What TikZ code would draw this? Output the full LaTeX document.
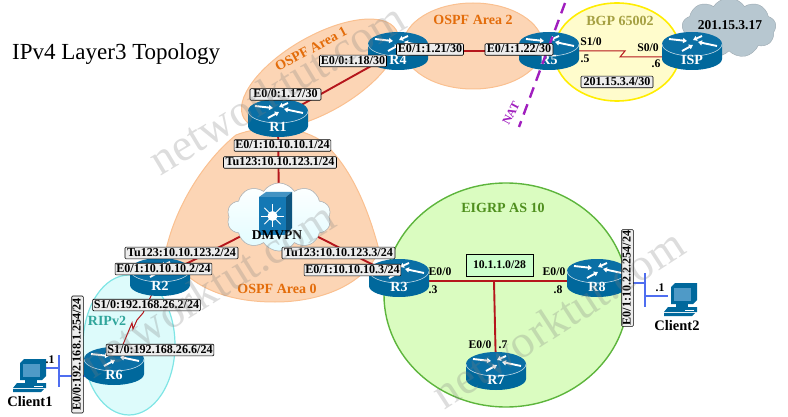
\documentclass[tikz,border=0pt]{standalone}
\usepackage{fontspec}
\setmainfont{Liberation Serif}
\usetikzlibrary{shapes.symbols,arrows.meta,calc}
\definecolor{linkred}{HTML}{B5161C}
\definecolor{routerblue}{HTML}{00689C}
\definecolor{routertop}{HTML}{0A6FA5}
\definecolor{lanblue}{HTML}{4F6EF0}
\definecolor{areaorange}{HTML}{FCD5B5}
\definecolor{edgeorange}{HTML}{FAC090}
\definecolor{textorange}{HTML}{E36C0A}
\definecolor{natpurple}{HTML}{A01EBE}
\definecolor{switchblue}{HTML}{1478B4}
\definecolor{ispgray}{HTML}{B7C7D0}
\definecolor{eigrpfill}{HTML}{DAFCC0}
\definecolor{eigrpedge}{HTML}{5DB53C}
\definecolor{eigrptext}{HTML}{4F8F1E}
\definecolor{riptext}{HTML}{2FA59B}
\definecolor{ripfill}{HTML}{DDFBFB}
\definecolor{ripedge}{HTML}{7FE5E5}
\tikzset{
  routerbox/.style={minimum width=60pt,minimum height=38pt,inner sep=0pt},
  routertext/.style={text=white,font=\bfseries\fontsize{14}{14}\selectfont,inner sep=0pt},
  ifbox/.style={draw=black,fill=gray!14,rounded corners=1pt,line width=.6pt,inner xsep=1.2pt,inner ysep=1pt,
    font=\bfseries\fontsize{12.1}{12}\selectfont,text height=8pt,text depth=1.6pt,align=center},
  plain/.style={font=\bfseries\fontsize{11.7}{12}\selectfont,inner sep=0pt},
  bigger/.style={font=\bfseries\fontsize{13.5}{14}\selectfont,inner sep=0pt},
  hostname/.style={font=\bfseries\fontsize{14.5}{15}\selectfont,inner sep=0pt},
  areaname/.style={font=\bfseries\fontsize{14}{14}\selectfont,inner sep=0pt},
  wire/.style={draw=linkred,line width=1.9pt},
  serial/.style={draw=linkred,line width=1pt},
  lan/.style={draw=lanblue,line width=2.6pt},
  markwater/.style={font=\fontsize{46}{46}\selectfont,text=gray,opacity=.27,inner sep=0pt},
  whitearrow/.style={draw=white,line width=1.9pt,-{Triangle[length=4pt,width=5pt]}},
  vpnbubble/.style={cloud,cloud puffs=10,cloud puff arc=115,aspect=1.5,minimum width=104pt,minimum height=68pt,
    draw=gray!60,line width=.5pt,top color=white,bottom color=blue!10!cyan!12,inner sep=0pt},
  router/.pic={
    \fill[routerblue] (-30,-7) -- (-30,8) arc[start angle=180,end angle=0,x radius=30,y radius=11] -- (30,-7) -- cycle;
    \fill[routertop] (0,-7) ellipse [x radius=30,y radius=12];
    \draw[white!75!routerblue,line width=.6pt] (-30,-7) arc[start angle=180,end angle=0,x radius=30,y radius=12];
    \draw[whitearrow] (-23,-12) -- (-5,-10);
    \draw[whitearrow] (-10,0) -- (1,-6);
    \draw[whitearrow] (10,-15) -- (1,-11);
    \draw[whitearrow] (25,-5) -- (6,-9);
  },
  client/.pic={
    \fill[routerblue] (7,5) -- (11,1) -- (33,1) -- (33,18) -- (29,22) -- (7,22) -- cycle;
    \fill[switchblue!75!white] (10,6) rectangle (27,19);
    \fill[routerblue] (12,22) rectangle (24,25);
    \fill[routerblue] (4,25) -- (33,25) -- (33,30) -- (0,30) -- cycle;
    \fill[routerblue] (0,31) -- (31,31) -- (28,34) -- (0,34) -- cycle;
    \draw[white,line width=.5pt] (21,28) -- (30,28);
  },
}
\newcommand{\placerouter}[2]{%
  \pic at (#1) {router};
  \node[routertext] (#1t) at ($(#1)+(0,9)$) {#2};
}
\begin{document}
\begin{tikzpicture}[x=1pt,y=-1pt]
\useasboundingbox (0,0) rectangle (788,417);
\clip (0,0) rectangle (788,417);

% device anchors
\node[routerbox] (R1) at (278,118) {};
\node[routerbox] (R2) at (160,277) {};
\node[routerbox] (R3) at (399,278) {};
\node[routerbox] (R4) at (398,51) {};
\node[routerbox] (R5) at (549,51) {};
\node[routerbox] (R6) at (114,366) {};
\node[routerbox] (R7) at (496,371) {};
\node[routerbox] (R8) at (597,278) {};
\node[routerbox] (ISP) at (692,51) {};

% routing domains
\fill[areaorange,draw=edgeorange,line width=1pt,rotate around={30:(320,74)}] (320,74) ellipse [x radius=88,y radius=38];
\fill[areaorange,draw=edgeorange,line width=1pt] (473,46) ellipse [x radius=70,y radius=43];
\fill[yellow!20,draw=yellow!95!orange,line width=1.6pt] (617,52) ellipse [x radius=63,y radius=49];
\fill[ripfill,draw=ripedge,line width=1.2pt] (129,345) ellipse [x radius=46,y radius=70];
\draw[draw=edgeorange,fill=areaorange,line width=1pt]
  (236,135) .. controls (262,125) and (296,125) .. (320,140)
  .. controls (352,165) and (370,215) .. (379,250)
  .. controls (365,285) and (320,302) .. (275,302)
  .. controls (235,302) and (190,292) .. (166,250)
  .. controls (176,205) and (205,160) .. (236,135) -- cycle;
\fill[eigrpfill,draw=eigrpedge,line width=1.4pt] (506,295) ellipse [x radius=122,y radius=112];

% clouds
\node[cloud,cloud puffs=9,cloud puff arc=115,aspect=1.6,minimum width=94pt,minimum height=60pt,
  fill=ispgray,draw=ispgray!85!black,line width=.4pt,inner sep=0pt] (ispcloud) at (729,28) {};
\node[vpnbubble] (vpn) at (279,217) {};

% links
\coordinate (lanA) at (59,376);
\coordinate (lanB) at (645,283);
\coordinate (tee) at (494,281);
\draw[wire] (R1.center) -- (R4.center);
\draw[wire] (R4.center) -- (R5.center);
\draw[wire] (R1.center) -- (vpn.center);
\draw[wire] (vpn.center) -- (R2.center);
\draw[wire] (vpn.center) -- (R3.center);
\draw[wire] ($(R3.center)+(0,3)$) -- ($(R8.center)+(0,3)$);
\draw[wire] (tee) -- (R7.center);
\draw[serial] (R5.center) -- ++(76,0) -- ++(-5,6) -- (ISP.center |- 0,57);
\draw[serial] (R2.center) -- (143,313) -- (137,320) -- (133,329) -- (132,323) -- (R6.center);
\draw[lan] (R6.center |- lanA) -- (lanA);
\draw[lan] (59,355) -- (59,387);
\draw[lan] (59,368) -- (45,368);
\draw[lan] (R8.center |- lanB) -- (lanB);
\draw[lan] (645,273) -- (645,307);
\draw[lan] (645,296) -- (668,296);

% the cloud face sits over the links that enter it
\node[vpnbubble] (vpnface) at (279,217) {};

% routers
\placerouter{R1}{R1}
\placerouter{R2}{R2}
\placerouter{R3}{R3}
\placerouter{R4}{R4}
\placerouter{R5}{R5}
\placerouter{R6}{R6}
\placerouter{R7}{R7}
\placerouter{R8}{R8}
\placerouter{ISP}{ISP}

% multilayer switch inside the DMVPN cloud
\fill[switchblue!80!white] (259,197) -- (266,192) -- (292,192) -- (286,197) -- cycle;
\fill[switchblue!70!black] (286,197) -- (292,192) -- (292,228) -- (286,235) -- cycle;
\fill[switchblue] (259,197) rectangle (286,235);
\fill[white] (272.5,216) circle (5pt);
\foreach \a in {0,45,...,315}
  \draw[white,line width=.8pt] (272.5,216) -- ++(\a:11.5);

% hosts
\pic at (13,358) {client};
\pic at (664,282) {client};

% NAT boundary
\coordinate (natA) at (565,3);
\coordinate (natB) at (519,127);
\draw[draw=natpurple,line width=2.4pt,dash pattern=on 11pt off 7pt] (natA) -- (natB);
\node[font=\fontsize{12}{12}\selectfont\bfseries,text=natpurple,rotate=62,inner sep=0pt] (nat) at (511,113) {NAT};

% domain names
\node[areaname,text=textorange,rotate=28] (a1) at (311,49) {OSPF Area 1};
\node[areaname,text=textorange] (a2) at (473,20) {OSPF Area 2};
\node[areaname,text=textorange] (a0) at (277,289) {OSPF Area 0};
\node[areaname,text=yellow!60!black] (bgp) at (620,21) {BGP 65002};
\node[areaname,text=eigrptext] (eigrp) at (503,208) {EIGRP AS 10};
\node[areaname,text=riptext] (rip) at (107,321) {RIPv2};

\node[font=\fontsize{23}{23}\selectfont,inner sep=0pt,anchor=west] (title) at (12,54) {IPv4 Layer3 Topology};
\node[bigger] (dmvpn) at (277,235) {DMVPN};
\node[bigger] (ispaddr) at (730,25) {201.15.3.17};

% interface boxes
\node[ifbox,minimum width=71pt] (b1) at (285.5,94.5) {E0/0:1.17/30};
\node[ifbox,minimum width=67pt] (b2) at (353,61) {E0/0:1.18/30};
\node[ifbox,minimum width=67pt] (b3) at (430,49.5) {E0/1:1.21/30};
\node[ifbox,minimum width=68pt] (b4) at (519,49.5) {E0/1:1.22/30};
\node[ifbox] (b5) at (282.5,145.5) {E0/1:10.10.10.1/24};
\node[ifbox,minimum width=113pt] (b6) at (280,162.5) {Tu123:10.10.123.1/24};
\node[ifbox,minimum width=113pt] (b7) at (181.5,253) {Tu123:10.10.123.2/24};
\node[ifbox] (b8) at (163.5,269) {E0/1:10.10.10.2/24};
\node[ifbox] (b9) at (146.5,305) {S1/0:192.168.26.2/24};
\node[ifbox] (b10) at (160,350) {S1/0:192.168.26.6/24};
\node[ifbox,rotate=90,minimum width=117pt] (b11) at (77.5,354.5) {E0/0:192.168.1.254/24};
\node[ifbox,minimum width=113pt] (b12) at (338.5,253) {Tu123:10.10.123.3/24};
\node[ifbox] (b13) at (352.5,270) {E0/1:10.10.10.3/24};
\node[ifbox,rotate=90] (b14) at (627.5,278) {E0/1:10.2.2.254/24};
\node[ifbox,minimum width=72pt] (b15) at (617,82) {201.15.3.4/30};
\node[draw=black,fill=green!20,line width=.6pt,minimum width=67pt,minimum height=22pt,inner sep=0pt,
  font=\bfseries\fontsize{11.7}{12}\selectfont] (b16) at (499.5,265) {10.1.1.0/28};

% short port and host labels
\node[plain] (p1) at (591,42) {S1/0};
\node[plain] (p2) at (585,59) {.5};
\node[plain] (p3) at (648,48) {S0/0};
\node[plain] (p4) at (656,64) {.6};
\node[plain] (p5) at (440,272) {E0/0};
\node[plain] (p6) at (433,290) {.3};
\node[plain] (p7) at (554,272) {E0/0};
\node[plain] (p8) at (558,290) {.8};
\node[plain] (p9) at (480,345) {E0/0};
\node[plain] (p10) at (503,345) {.7};
\node[plain] (p11) at (50,360) {.1};
\node[plain] (p12) at (660,288) {.1};
\node[hostname] (c1) at (30,402) {Client1};
\node[hostname] (c2) at (677,326) {Client2};

% site name printed across the drawing
\node[markwater,rotate=31] (w1) at (277,88) {networktut.com};
\node[markwater,rotate=32] (w2) at (208,289) {networktut.com};
\node[markwater,rotate=33] (w3) at (558,318) {networktut.com};
\end{tikzpicture}
\end{document}
